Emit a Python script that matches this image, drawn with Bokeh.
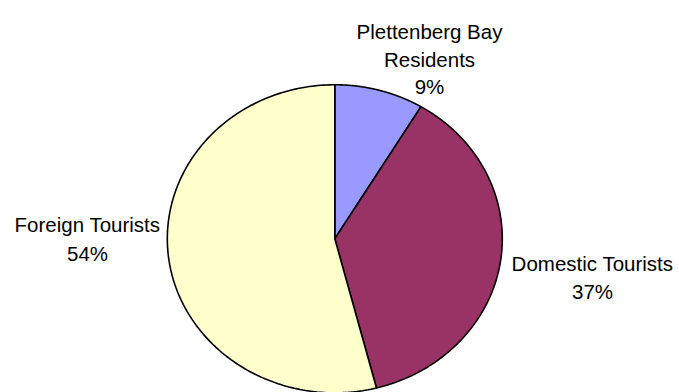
import numpy as np
from bokeh.plotting import figure
from bokeh.models import Range1d, ColumnDataSource, Label
from bokeh.embed import file_html
from bokeh.resources import INLINE

categories = ["Plettenberg Bay Residents", "Domestic Tourists", "Foreign Tourists"]
label_lines = [["Plettenberg Bay", "Residents"], ["Domestic Tourists"], ["Foreign Tourists"]]
values = [8.6, 37.4, 54.0]
colors = ["#9999FF", "#993366", "#FFFFCC"]

W, H = 679, 392
p = figure(width=W, height=H, output_backend="svg", toolbar_location=None,
           min_border=0, x_range=Range1d(-1.996, 2.058), y_range=Range1d(-0.998, 1.547))
p.axis.visible = False
p.grid.visible = False
p.outline_line_color = None
p.background_fill_color = "white"

total = sum(values)
fr = np.array(values) / total
cum = np.concatenate([[0], np.cumsum(fr)])
xs, ys = [], []
for i in range(len(values)):
    t = np.linspace(cum[i], cum[i + 1], 200)
    ang = np.pi / 2 - 2 * np.pi * t
    xs.append(np.concatenate([[0], np.cos(ang), [0]]).tolist())
    ys.append(np.concatenate([[0], np.sin(ang), [0]]).tolist())
src = ColumnDataSource(dict(xs=xs, ys=ys, color=colors, cat=categories))
p.patches("xs", "ys", fill_color="color", line_color="black", line_width=1.6, source=src)

# label anchor (screen px from top) : centre x and baseline of each line
anchors = [(429, [31, 58.5, 86]), (592, [263, 290.5]), (87, [224, 253])]
for lines, val, (cx, bases) in zip(label_lines, values, anchors):
    texts = lines + [f"{round(val)}%"]
    for t, b in zip(texts, bases):
        p.add_layout(Label(x=cx, y=H - b, x_units="screen", y_units="screen", text=t,
                           text_align="center", text_baseline="alphabetic",
                           text_font="Liberation Sans", text_font_size="20.5px",
                           text_color="black"))

open("out.html", "w").write(file_html(p, INLINE))
